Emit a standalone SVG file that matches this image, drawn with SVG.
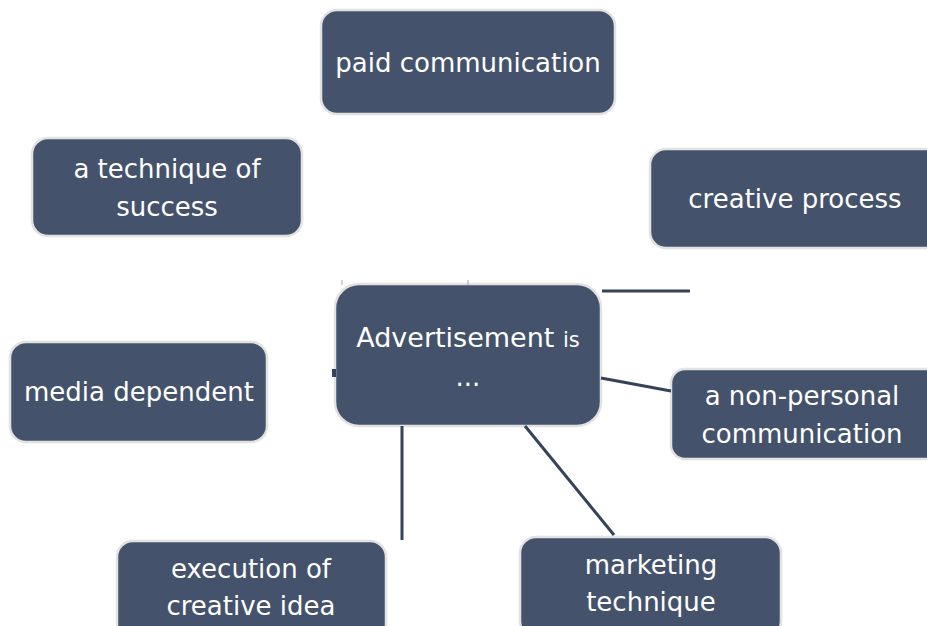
<svg xmlns="http://www.w3.org/2000/svg" width="927" height="626" viewBox="0 0 927 626">
<style>
.box{fill:#44536b;stroke:#e2e2e2;stroke-width:2.5}
.t{font-family:"DejaVu Sans","Liberation Sans",sans-serif;font-size:26px;fill:#ffffff;text-anchor:middle}
.c{stroke:#34435a;stroke-width:3;fill:none}
.f{stroke:#9aa3b0;stroke-width:1;fill:none}
</style>
<rect width="927" height="626" fill="#ffffff"/>
<g id="n-paid"><rect class="box" x="321" y="10" width="294" height="104" rx="16"/><text class="t" x="468" y="72">paid communication</text></g>
<g id="n-technique"><rect class="box" x="32" y="138" width="270" height="98" rx="16"/><text class="t" x="167" y="178">a technique of</text><text class="t" x="167" y="216">success</text></g>
<g id="n-creative"><rect class="box" x="650" y="149" width="300" height="99" rx="16"/><text class="t" x="795" y="208">creative process</text></g>
<g id="n-center"><rect class="box" x="335" y="284" width="266" height="142" rx="24"/><text class="t" x="468" y="347" style="font-size:27px">Advertisement <tspan style="font-size:21px">is</tspan></text><text class="t" x="468" y="386">...</text></g>
<g id="n-media"><rect class="box" x="10" y="342" width="257" height="100" rx="16"/><text class="t" x="139" y="401">media dependent</text></g>
<g id="n-nonpersonal"><rect class="box" x="671" y="369" width="280" height="90" rx="14"/><text class="t" x="802" y="405">a non-personal</text><text class="t" x="802" y="443">communication</text></g>
<g id="n-execution"><rect class="box" x="117" y="541" width="269" height="100" rx="16"/><text class="t" x="251" y="578">execution of</text><text class="t" x="251" y="615">creative idea</text></g>
<g id="n-marketing"><rect class="box" x="520" y="537" width="261" height="100" rx="16"/><text class="t" x="651" y="574">marketing</text><text class="t" x="651" y="611">technique</text></g>
<g id="connectors">
<line class="c" x1="602" y1="291" x2="690" y2="291"/>
<line class="c" x1="601" y1="378" x2="671" y2="391"/>
<line class="c" x1="402" y1="426" x2="402" y2="540"/>
<line class="c" x1="525" y1="426" x2="614" y2="535"/>
<line class="c" x1="334" y1="369" x2="334" y2="377" style="stroke-width:4"/>
<line class="f" x1="342" y1="280" x2="342" y2="285"/>
<line class="f" x1="468" y1="280" x2="468" y2="285"/>
</g>
</svg>
